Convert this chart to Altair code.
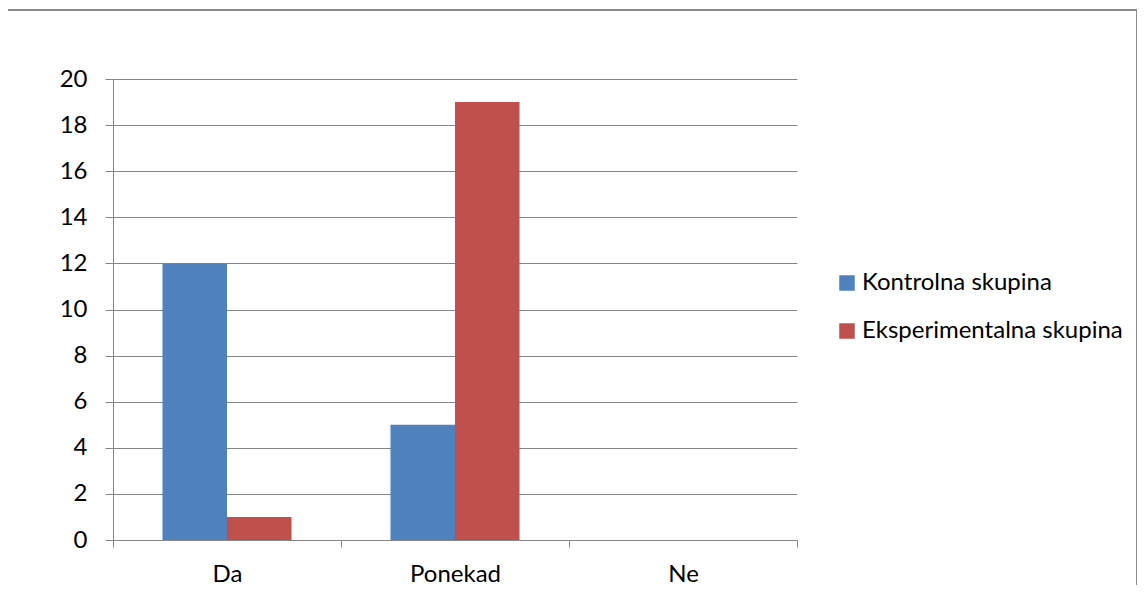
import altair as alt
import pandas as pd

categories = ["Da", "Ponekad", "Ne"]
series = ["Kontrolna skupina", "Eksperimentalna skupina"]
kontrolna = [12, 5, 0]
eksperimentalna = [1, 19, 0]
y_ticks = list(range(0, 21, 2))
colors = ["#4F81BD", "#C0504D"]

rows = []
for c, k, e in zip(categories, kontrolna, eksperimentalna):
    rows.append({"kategorija": c, "skupina": series[0], "vrijednost": k})
    rows.append({"kategorija": c, "skupina": series[1], "vrijednost": e})
df = pd.DataFrame(rows)

FONT = "Lato"
GRAY = "#868686"
FS = 24

bars = alt.Chart(df).mark_bar().encode(
    x=alt.X(
        "kategorija:N", sort=categories, title=None,
        scale=alt.Scale(paddingInner=0, paddingOuter=0),
        axis=alt.Axis(labelAngle=0, tickBand="extent", tickSize=7, labelPadding=15,
                      domainColor=GRAY, tickColor=GRAY, grid=False,
                      labelFontSize=FS, labelFont=FONT, labelColor="black"),
    ),
    xOffset=alt.XOffset("skupina:N", sort=series,
                        scale=alt.Scale(paddingInner=0, paddingOuter=0.767)),
    y=alt.Y(
        "vrijednost:Q", title=None, scale=alt.Scale(domain=[0, 20]),
        axis=alt.Axis(values=y_ticks, tickSize=8, labelPadding=18,
                      gridColor=GRAY, domainColor=GRAY, tickColor=GRAY,
                      labelFontSize=FS, labelFont=FONT, labelColor="black"),
    ),
    color=alt.Color(
        "skupina:N", sort=series,
        scale=alt.Scale(domain=series, range=colors),
        legend=alt.Legend(title=None, orient="none", legendX=722, legendY=192,
                          symbolType="square", symbolSize=240, symbolStrokeWidth=0,
                          labelFontSize=FS, labelFont=FONT, labelColor="black",
                          labelLimit=0, rowPadding=24, labelOffset=3),
    ),
)

border = alt.Chart(pd.DataFrame({"o": [0]})).mark_rect(
    fill="transparent", stroke="#8A8A8A", strokeWidth=2
).encode(
    x=alt.value(-107), x2=alt.value(1024), y=alt.value(-69), y2=alt.value(540)
)

chart = alt.layer(bars, border).properties(
    width=684, height=461,
    autosize=alt.AutoSizeParams(type="none"),
    padding={"left": 105, "top": 71, "right": 340, "bottom": 45},
    background="white",
).configure_view(strokeWidth=0)

chart.save("out.html", embed_options={"renderer": "svg", "actions": False})
